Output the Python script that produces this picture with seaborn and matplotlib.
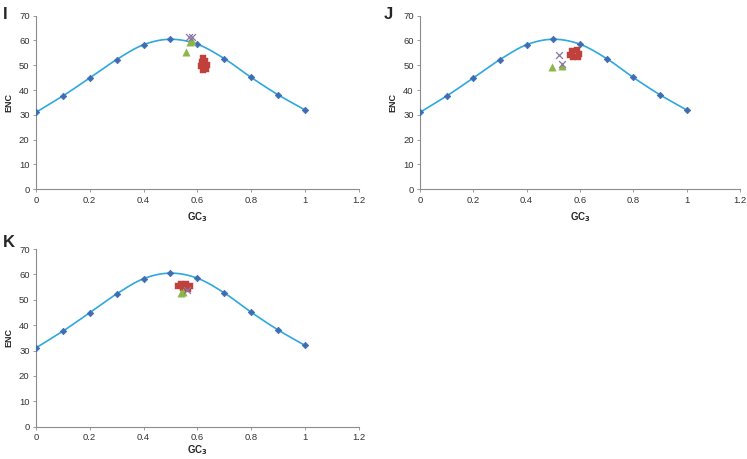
import numpy as np
import pandas as pd
import matplotlib
matplotlib.use("Agg")
import matplotlib.pyplot as plt
import seaborn as sns

# Expected ENC curve
curve_gc3 = [0.0, 0.1, 0.2, 0.3, 0.4, 0.5, 0.6, 0.7, 0.8, 0.9, 1.0]
curve_enc = [31.0, 37.6, 44.9, 52.3, 58.3, 60.5, 58.5, 52.7, 45.1, 38.1, 32.0]

# Panel I
i_sq_x = [0.620, 0.628, 0.635, 0.613, 0.620, 0.632, 0.617]
i_sq_y = [52.9, 51.7, 50.1, 49.7, 48.1, 48.5, 51.3]
i_tr_x = [0.572, 0.580, 0.556]
i_tr_y = [59.5, 59.7, 55.5]
i_cr_x = [0.568, 0.580]
i_cr_y = [61.3, 61.3]

# Panel J
j_sq_x = [0.570, 0.589, 0.596, 0.574, 0.593, 0.563]
j_sq_y = [55.7, 56.1, 54.5, 53.4, 53.4, 54.1]
j_tr_x = [0.494, 0.534]
j_tr_y = [49.4, 49.7]
j_cr_x = [0.521, 0.533]
j_cr_y = [54.2, 50.4]

# Panel K
k_sq_x = [0.539, 0.557, 0.572, 0.546, 0.565, 0.527]
k_sq_y = [56.2, 56.2, 55.4, 54.6, 54.2, 55.4]
k_tr_x = [0.541, 0.547]
k_tr_y = [52.5, 53.1]
k_cr_x = [0.560]
k_cr_y = [53.8]

x_ticks = [0, 0.2, 0.4, 0.6, 0.8, 1.0, 1.2]
x_tick_labels = ["0", "0.2", "0.4", "0.6", "0.8", "1", "1.2"]
y_ticks = [0, 10, 20, 30, 40, 50, 60, 70]

sns.set_style("white")
plt.rcParams['font.family'] = ['Liberation Sans', 'DejaVu Sans']

LINE = "#2EA8DF"
PT = "#3F6DB3"
RED = "#C0403C"
GREEN = "#8DB548"
PURPLE = "#8A74A8"
SPINE = "#8C8C8C"


def smooth(xs, ys, n=20):
    xs = np.asarray(xs, float)
    ys = np.asarray(ys, float)
    px = np.concatenate([[2 * xs[0] - xs[1]], xs, [2 * xs[-1] - xs[-2]]])
    py = np.concatenate([[2 * ys[0] - ys[1]], ys, [2 * ys[-1] - ys[-2]]])
    ox, oy = [], []
    for i in range(1, len(px) - 2):
        t = np.linspace(0, 1, n, endpoint=False)
        for arr, out in ((px, ox), (py, oy)):
            p0, p1, p2, p3 = arr[i - 1], arr[i], arr[i + 1], arr[i + 2]
            out.extend(0.5 * ((2 * p1) + (-p0 + p2) * t +
                              (2 * p0 - 5 * p1 + 4 * p2 - p3) * t ** 2 +
                              (-p0 + 3 * p1 - 3 * p2 + p3) * t ** 3))
    ox.append(xs[-1])
    oy.append(ys[-1])
    return np.array(ox), np.array(oy)


fig = plt.figure(figsize=(7.47, 4.59), dpi=100)
positions = {
    "I": [0.048, 0.5876, 0.4324, 0.3782],
    "J": [0.5622, 0.5876, 0.4284, 0.3782],
    "K": [0.048, 0.0704, 0.4324, 0.3871],
}
label_pads = {"I": 4, "J": 4, "K": 1}
panels = {
    "I": (i_sq_x, i_sq_y, i_tr_x, i_tr_y, i_cr_x, i_cr_y),
    "J": (j_sq_x, j_sq_y, j_tr_x, j_tr_y, j_cr_x, j_cr_y),
    "K": (k_sq_x, k_sq_y, k_tr_x, k_tr_y, k_cr_x, k_cr_y),
}

for name, pos in positions.items():
    ax = fig.add_axes(pos)
    sq_x, sq_y, tr_x, tr_y, cr_x, cr_y = panels[name]
    sx, sy = smooth(curve_gc3, curve_enc)
    sns.lineplot(x=sx, y=sy, ax=ax, color=LINE, linewidth=1.2, sort=False, zorder=2)
    sns.scatterplot(x=curve_gc3, y=curve_enc, ax=ax, marker="D", s=11,
                    color=PT, edgecolor=PT, linewidth=0.5, zorder=3)
    sns.scatterplot(x=sq_x, y=sq_y, ax=ax, marker="s", s=24, color=RED,
                    edgecolor=RED, linewidth=0.3, zorder=4)
    sns.scatterplot(x=tr_x, y=tr_y, ax=ax, marker="^", s=28, color=GREEN,
                    edgecolor=GREEN, linewidth=0.3, zorder=5)
    sns.scatterplot(x=cr_x, y=cr_y, ax=ax, marker="x", s=24, color=PURPLE,
                    linewidth=0.9, zorder=6)
    ax.set_xlim(0, 1.2)
    ax.set_ylim(0, 70)
    ax.set_xticks(x_ticks)
    ax.set_xticklabels(x_tick_labels)
    ax.set_yticks(y_ticks)
    ax.tick_params(axis="both", labelsize=6.8, length=2.5, width=0.6,
                   color=SPINE, direction="out", pad=2, labelcolor="#333333")
    ax.tick_params(left=True, bottom=True)
    for side in ("top", "right"):
        ax.spines[side].set_visible(False)
    for side in ("left", "bottom"):
        ax.spines[side].set_color(SPINE)
        ax.spines[side].set_linewidth(0.8)
    ax.set_xlabel("GC$_\\mathbf{3}$", fontsize=7, fontweight="bold",
                  labelpad=label_pads[name])
    ax.set_ylabel("ENC", fontsize=6.5, fontweight="bold", labelpad=4)
    ax.grid(False)

fig.text(0.004, 0.985, "I", fontsize=12, fontweight="bold", va="top", ha="left")
fig.text(0.513, 0.985, "J", fontsize=12, fontweight="bold", va="top", ha="left")
fig.text(0.004, 0.487, "K", fontsize=12, fontweight="bold", va="top", ha="left")

fig.savefig("out.png", dpi=100)
